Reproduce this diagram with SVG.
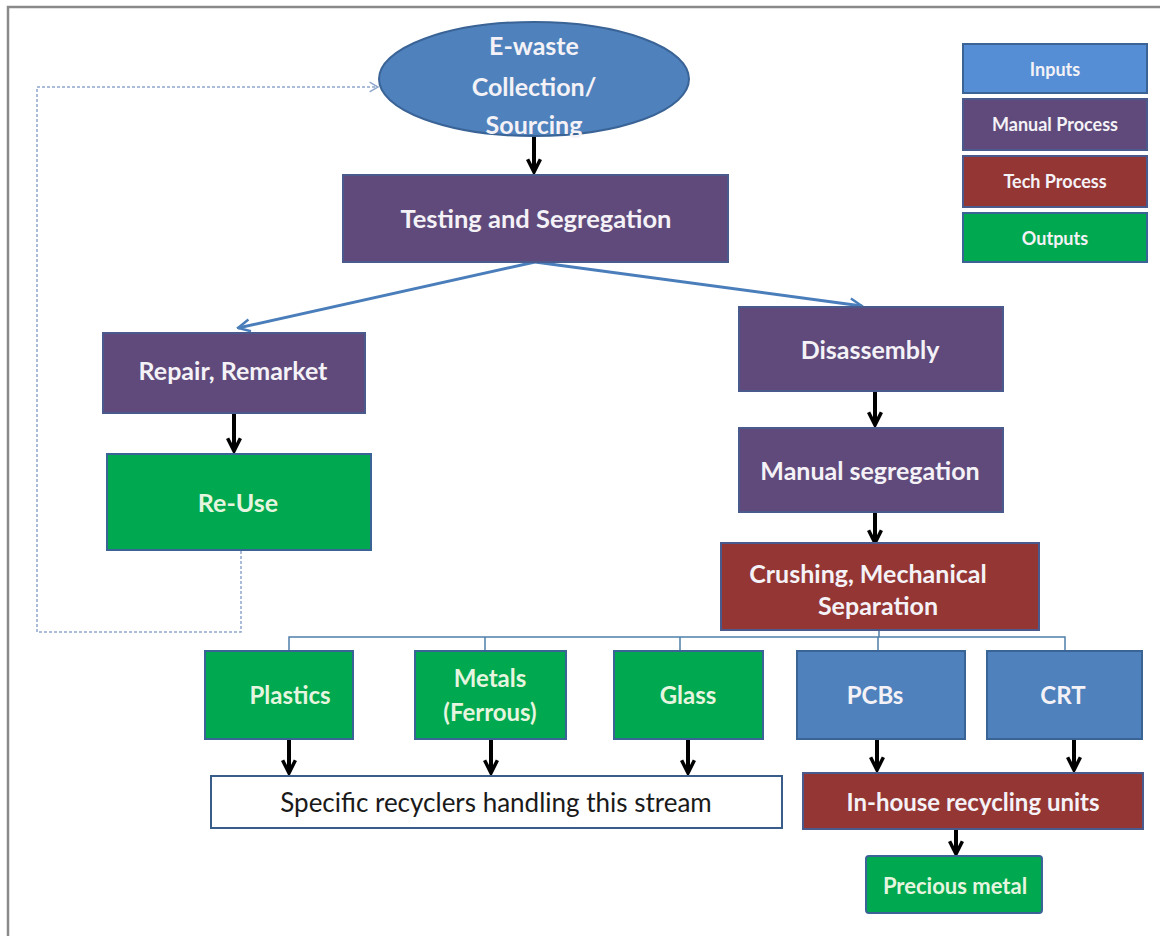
<svg xmlns="http://www.w3.org/2000/svg" width="1160" height="936" viewBox="0 0 1160 936">
<defs>
<marker id="blk" viewBox="0 0 10 10" refX="9" refY="5" markerWidth="4" markerHeight="4" orient="auto" markerUnits="strokeWidth">
<path d="M1,1 L9,5 L1,9" fill="none" stroke="#000" stroke-width="2.2" stroke-linejoin="miter"/>
</marker>
<marker id="blu" viewBox="0 0 10 10" refX="9" refY="5" markerWidth="5" markerHeight="5" orient="auto" markerUnits="strokeWidth">
<path d="M1,1 L9,5 L1,9" fill="none" stroke="#4a7ebb" stroke-width="1.6"/>
</marker>
<marker id="dot" viewBox="0 0 10 10" refX="9" refY="5" markerWidth="8" markerHeight="8" orient="auto" markerUnits="strokeWidth">
<path d="M2,1 L9,5 L2,9" fill="none" stroke="#8fa6cc" stroke-width="1.2"/>
</marker>
</defs>
<style>
.t{font-family:Lato,"Open Sans",sans-serif;fill:#f4f2f6;text-anchor:middle;dominant-baseline:central;font-weight:bold}
.in{fill:#4f81bd;stroke:#3a6396;stroke-width:2}
.lin{fill:#558ed5;stroke:#3a6396;stroke-width:2}
.mp{fill:#5f4a7b;stroke:#4a5a8c;stroke-width:2}
.tp{fill:#943634;stroke:#4a5a8c;stroke-width:2}
.out{fill:#00a94f;stroke:#3a6396;stroke-width:2}
.blk{stroke:#000;stroke-width:4;fill:none;marker-end:url(#blk)}
</style>
<rect width="1160" height="936" fill="#fff"/>
<path d="M8,936 V7 H1160" fill="none" stroke="#8a8a8a" stroke-width="2.5"/>

<g id="legend">
<g id="leg-inputs"><rect class="lin" x="963" y="44" width="184" height="49"/><text class="t" x="1055" y="69" font-size="18">Inputs</text></g>
<g id="leg-manual"><rect class="mp" x="963" y="99" width="184" height="51"/><text class="t" x="1055" y="124" font-size="18">Manual Process</text></g>
<g id="leg-tech"><rect class="tp" x="963" y="156" width="184" height="51"/><text class="t" x="1055" y="181" font-size="18">Tech Process</text></g>
<g id="leg-outputs"><rect class="out" x="963" y="213" width="184" height="49"/><text class="t" x="1055" y="238" font-size="18">Outputs</text></g>
</g>

<g id="connectors">
<path class="blk" d="M534,136 V172"/>
<path d="M535,262 L238,328" stroke="#4a7ebb" stroke-width="3" fill="none" marker-end="url(#blu)"/>
<path d="M535,262 L862,306" stroke="#4a7ebb" stroke-width="3" fill="none" marker-end="url(#blu)"/>
<path class="blk" d="M234,414 V451"/>
<path class="blk" d="M875,392 V425"/>
<path class="blk" d="M875,513 V543"/>
<path d="M879,630 V637 M289,651 V637 H1065 V651 M485,637 V651 M680,637 V651 M878,637 V651" stroke="#4f7fa8" stroke-width="1.5" fill="none"/>
<path class="blk" d="M289,740 V773"/>
<path class="blk" d="M491,740 V773"/>
<path class="blk" d="M688,740 V773"/>
<path class="blk" d="M877,740 V770"/>
<path class="blk" d="M1074,740 V770"/>
<path class="blk" d="M956,829 V854"/>
<path d="M241,551 V632 H37 V87 H378" stroke="#8fa6cc" stroke-width="1.5" stroke-dasharray="3,2" fill="none" marker-end="url(#dot)"/>
</g>

<g id="n-collection"><ellipse class="in" cx="534" cy="79" rx="155" ry="57"/>
<text class="t" x="534" y="45" font-size="25">E-waste</text>
<text class="t" x="534" y="86" font-size="25">Collection/</text>
<text class="t" x="534" y="124" font-size="25">Sourcing</text></g>

<g id="n-testing"><rect class="mp" x="343" y="175" width="385" height="87"/><text class="t" x="536" y="218" font-size="25.5">Testing and Segregation</text></g>
<g id="n-repair"><rect class="mp" x="103" y="333" width="262" height="80"/><text class="t" x="233" y="370" font-size="25">Repair, Remarket</text></g>
<g id="n-reuse"><rect class="out" x="107" y="454" width="264" height="96"/><text class="t" x="238" y="502" font-size="25" style="fill:#e6f5df">Re-Use</text></g>
<g id="n-disassembly"><rect class="mp" x="739" y="307" width="264" height="84"/><text class="t" x="870" y="349" font-size="25">Disassembly</text></g>
<g id="n-manualseg"><rect class="mp" x="739" y="428" width="264" height="84"/><text class="t" x="870" y="470" font-size="25">Manual segregation</text></g>
<g id="n-crushing"><rect class="tp" x="721" y="543" width="318" height="87"/>
<text class="t" x="868" y="573" font-size="25">Crushing, Mechanical</text>
<text class="t" x="878" y="605" font-size="25">Separation</text></g>

<g id="n-plastics"><rect class="out" x="205" y="651" width="148" height="88"/><text class="t" x="290" y="694" font-size="24" style="fill:#e6f5df">Plastics</text></g>
<g id="n-metals"><rect class="out" x="415" y="651" width="151" height="88"/>
<text class="t" x="490" y="677" font-size="24" style="fill:#e6f5df">Metals</text>
<text class="t" x="490" y="711" font-size="24" style="fill:#e6f5df">(Ferrous)</text></g>
<g id="n-glass"><rect class="out" x="614" y="651" width="149" height="88"/><text class="t" x="688" y="694" font-size="24" style="fill:#e6f5df">Glass</text></g>
<g id="n-pcbs"><rect class="in" x="797" y="651" width="168" height="88"/><text class="t" x="875" y="694" font-size="24">PCBs</text></g>
<g id="n-crt"><rect class="in" x="987" y="651" width="155" height="88"/><text class="t" x="1063" y="694" font-size="24">CRT</text></g>

<g id="n-specific"><rect x="211" y="776" width="571" height="52" fill="#fff" stroke="#385d8a" stroke-width="2"/><text class="t" x="496" y="802" font-size="26" style="fill:#1a1a1a;font-weight:normal">Specific recyclers handling this stream</text></g>
<g id="n-inhouse"><rect class="tp" x="803" y="773" width="340" height="56"/><text class="t" x="973" y="801" font-size="24">In-house recycling units</text></g>
<g id="n-precious"><rect class="out" x="866" y="856" width="176" height="57" rx="3"/><text class="t" x="955" y="885" font-size="22" style="fill:#e6f5df">Precious metal</text></g>
</svg>
